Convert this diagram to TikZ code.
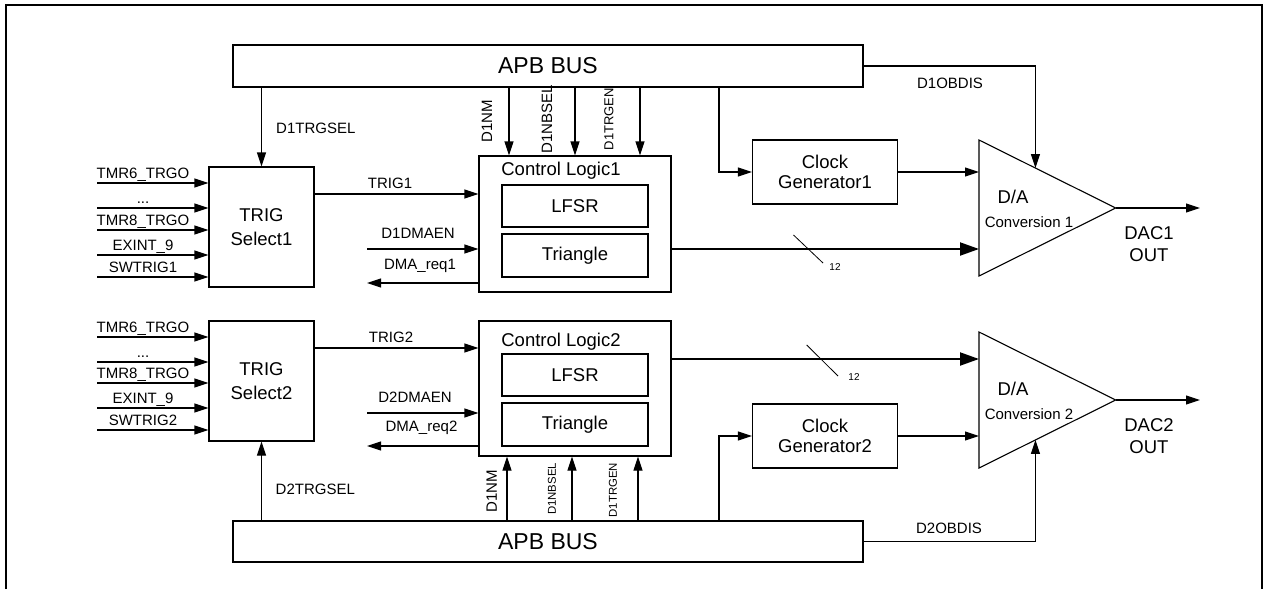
\documentclass[tikz,border=0pt]{standalone}
\usepackage{fontspec}
\setmainfont{Liberation Sans}
\usetikzlibrary{arrows.meta,calc}
\newcommand{\skipdots}{...}

\begin{document}
\begin{tikzpicture}[x=1pt,y=-1pt,
  blk/.style={draw,line width=1.1pt,inner sep=0pt,align=center,font=\fontsize{18.5}{24}\selectfont},
  lbl/.style={inner sep=0pt,font=\fontsize{15}{18}\selectfont},
  arr/.style={line width=1.1pt,-{Triangle[length=14pt,width=9pt]}},
  bus/.style={blk,minimum width=630pt,font=\fontsize{23}{26}\selectfont}]

\useasboundingbox (0,0) rectangle (1269,589);
\draw[line width=2.6pt] (6,589) -- (6,5) -- (1262,5) -- (1262,589);

% the two buses
\node[bus,minimum height=42pt] (bus1) at (548,66) {APB BUS};
\node[bus,minimum height=41pt] (bus2) at (548,541.5) {APB BUS};

% trigger select
\node[blk,minimum width=105pt,minimum height=120pt] (sel1) at (261.5,227) {TRIG\\Select1};
\node[blk,minimum width=105pt,minimum height=120pt] (sel2) at (261.5,381) {TRIG\\Select2};

% control logic
\node[blk,minimum width=192pt,minimum height=136pt] (cl1) at (575,224) {};
\node[lbl,font=\fontsize{18.5}{20}\selectfont] (cl1t) at (561,171) {Control Logic1};
\node[blk,minimum width=146pt,minimum height=42pt] (lfsr1) at (575,206) {LFSR};
\node[blk,minimum width=146pt,minimum height=43pt] (tri1) at (575,255.5) {Triangle};

\node[blk,minimum width=192pt,minimum height=135pt] (cl2) at (575,388.5) {};
\node[lbl,font=\fontsize{18.5}{20}\selectfont] (cl2t) at (561,342) {Control Logic2};
\node[blk,minimum width=146pt,minimum height=42pt] (lfsr2) at (575,375) {LFSR};
\node[blk,minimum width=146pt,minimum height=43pt] (tri2) at (575,424.5) {Triangle};

% clock generators
\node[blk,minimum width=145pt,minimum height=64pt,font=\fontsize{18.5}{20}\selectfont] (clk1) at (825,172) {Clock\\Generator1};
\node[blk,minimum width=145pt,minimum height=64pt,font=\fontsize{18.5}{20}\selectfont] (clk2) at (825,436) {Clock\\Generator2};

% converters
\coordinate (d1a) at (979,140); \coordinate (d1b) at (979,276); \coordinate (d1c) at (1115.7,208);
\draw[line width=1.1pt] (d1a) -- (d1c) -- (d1b) -- cycle;
\node[lbl,font=\fontsize{18.5}{20}\selectfont] (da1) at (1013,197) {D/A};
\node[lbl] (cv1) at (1029,222) {Conversion 1};

\coordinate (d2a) at (979,332); \coordinate (d2b) at (979,468); \coordinate (d2c) at (1115.7,400);
\draw[line width=1.1pt] (d2a) -- (d2c) -- (d2b) -- cycle;
\node[lbl,font=\fontsize{18.5}{20}\selectfont] (da2) at (1013,389) {D/A};
\node[lbl] (cv2) at (1029,414) {Conversion 2};

% trigger inputs
\foreach \y/\t [count=\i] in {183/TMR6\_TRGO,208/\skipdots,230/TMR8\_TRGO,255/EXINT\_9,277/SWTRIG1}{
  \coordinate (ina\i) at (97,\y);
  \draw[arr] (ina\i) -- (sel1.west |- ina\i);
  \node[lbl,anchor=base] (la\i) at (143,\y-5) {\t};
}
\foreach \y/\t [count=\i] in {337/TMR6\_TRGO,362/\skipdots,383/TMR8\_TRGO,408/EXINT\_9,430/SWTRIG2}{
  \coordinate (inb\i) at (97,\y);
  \draw[arr] (inb\i) -- (sel2.west |- inb\i);
  \node[lbl,anchor=base] (lb\i) at (143,\y-5) {\t};
}

% channel 1
\draw[arr] (sel1.east |- 0,194) -- (cl1.west |- 0,194);
\node[lbl] (tg1l) at (390,183) {TRIG1};
\coordinate (en1) at (367,249);
\draw[arr] (en1) -- (cl1.west |- en1);
\node[lbl] (en1l) at (418,233) {D1DMAEN};
\coordinate (rq1) at (367,283);
\draw[arr] (cl1.west |- rq1) -- (rq1);
\node[lbl] (rq1l) at (420,266) {DMA\_req1};

\draw[arr] (bus1.south -| sel1.north) -- (sel1.north);
\node[lbl,anchor=west] (ts1) at (276,128) {D1TRGSEL};
\foreach \x in {509,575,640} \draw[arr] (bus1.south -| \x,0) -- (cl1.north -| \x,0);
\node[lbl,rotate=90] (nm1) at (487,121) {D1NM};
\node[lbl,rotate=90] (nb1) at (547,119) {D1NBSEL};
\node[lbl,rotate=90,font=\fontsize{13}{15}\selectfont] (tr1) at (609,119) {D1TRGEN};

\draw[arr] (bus1.south -| 719,0) |- (clk1.west);
\draw[arr] (clk1.east) -- (clk1.east -| d1a);
\draw[arr,line width=2pt,-{Triangle[length=19pt,width=13pt]}] (cl1.east |- 0,249) -- (d1a |- 0,249);
\draw[line width=0.8pt] (793.5,235) -- (823,263);
\node[font=\fontsize{10}{12}\selectfont,inner sep=0pt] (w1) at (835,267) {12};

\coordinate (ob1) at ($(d1a)!0.413!(d1c)$);
\draw[arr] (bus1.east) -| (ob1);
\node[lbl] (ob1l) at (950,83) {D1OBDIS};
\coordinate (o1) at (1200,208);
\draw[arr] (d1c) -- (o1);
\node[lbl,align=center,font=\fontsize{18.5}{22}\selectfont] (out1) at (1149,244) {DAC1\\OUT};

% channel 2
\draw[arr] (sel2.east |- 0,348) -- (cl2.west |- 0,348);
\node[lbl] (tg2l) at (391,337) {TRIG2};
\coordinate (en2) at (367,413);
\draw[arr] (en2) -- (cl2.west |- en2);
\node[lbl] (en2l) at (415,397) {D2DMAEN};
\coordinate (rq2) at (367,446);
\draw[arr] (cl2.west |- rq2) -- (rq2);
\node[lbl] (rq2l) at (421.5,428) {DMA\_req2};

\draw[arr] (bus2.north -| sel2.south) -- (sel2.south);
\node[lbl,anchor=west] (ts2) at (275.5,489) {D2TRGSEL};
\foreach \x in {507,572,638} \draw[arr] (bus2.north -| \x,0) -- (cl2.south -| \x,0);
\node[lbl,rotate=90] (nm2) at (491.7,491) {D1NM};
\node[lbl,rotate=90,font=\fontsize{11.4}{13}\selectfont] (nb2) at (552,489) {D1NBSEL};
\node[lbl,rotate=90,font=\fontsize{11.4}{13}\selectfont] (tr2) at (613,490) {D1TRGEN};

\draw[arr] (bus2.north -| 719,0) |- (clk2.west);
\draw[arr] (clk2.east) -- (clk2.east -| d2a);
\draw[arr,line width=2pt,-{Triangle[length=19pt,width=13pt]}] (cl2.east |- 0,359) -- (d2a |- 0,359);
\draw[line width=0.8pt] (806.7,345) -- (838,376);
\node[font=\fontsize{10}{12}\selectfont,inner sep=0pt] (w2) at (854,377) {12};

\coordinate (ob2) at ($(d2b)!0.413!(d2c)$);
\draw[arr] (bus2.east) -| (ob2);
\node[lbl] (ob2l) at (949,528) {D2OBDIS};
\coordinate (o2) at (1200,400);
\draw[arr] (d2c) -- (o2);
\node[lbl,align=center,font=\fontsize{18.5}{22}\selectfont] (out2) at (1149,436) {DAC2\\OUT};

\end{tikzpicture}
\end{document}
